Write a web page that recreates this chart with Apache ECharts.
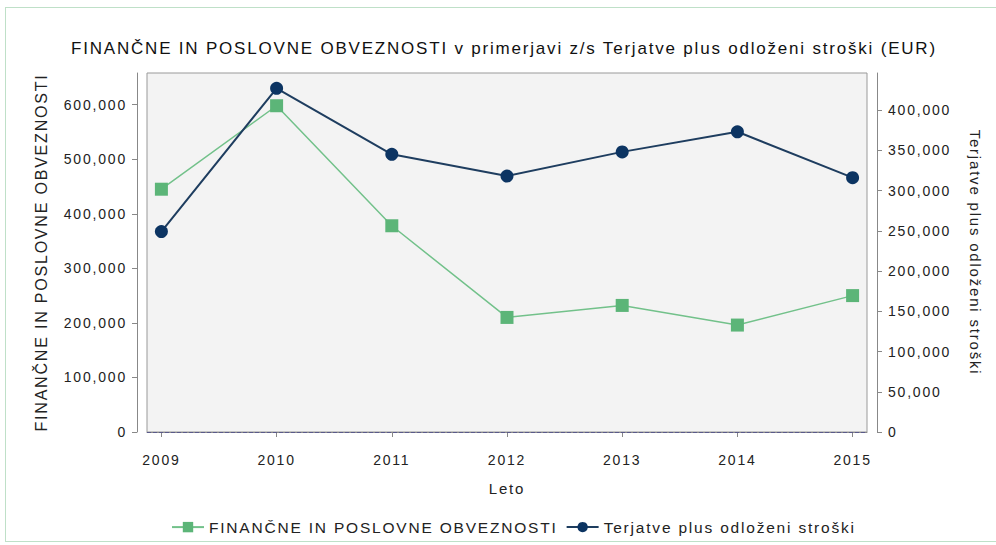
<!DOCTYPE html>
<html>
<head>
<meta charset="utf-8">
<script src="https://cdn.jsdelivr.net/npm/echarts@6/dist/echarts.min.js"></script>
<style>
  html, body { margin: 0; padding: 0; background: #fff; }
  #frame { position: absolute; left: 5px; top: 7px; width: 1000px; height: 533px; border: 1px solid #bfe0c8; }
  #chart { position: absolute; left: 0; top: 0; width: 996px; height: 545px; }
  /* razmaknjene črke kot v izvirniku */
  #chart svg text { letter-spacing: 1.8px; }
</style>
</head>
<body>
<div id="frame"></div>
<div id="chart"></div>
<script>
// podatki
const years = [2009, 2010, 2011, 2012, 2013, 2014, 2015];
const obveznosti = [445000, 598000, 378000, 210000, 232000, 196000, 250000];
const terjatve = [249000, 427000, 345000, 318000, 348000, 373000, 316000];
const leftTicks = [0, 100000, 200000, 300000, 400000, 500000, 600000];
const rightTicks = [0, 50000, 100000, 150000, 200000, 250000, 300000, 350000, 400000];

const nameObv = "FINANČNE IN POSLOVNE OBVEZNOSTI";
const nameTer = "Terjatve plus odloženi stroški";
const green = "#5cb578";
const navy = "#0c3462";
const font = "'Liberation Sans', Arial, sans-serif";
const txt = "#222";
const LS = 1.8;

// merjenje besedila mora upoštevati razmik med črkami
const mctx = document.createElement("canvas").getContext("2d");
echarts.setPlatformAPI({
  measureText(text, f) {
    mctx.font = f || "12px sans-serif";
    const t = text == null ? "" : String(text);
    return { width: mctx.measureText(t).width + t.length * LS };
  },
});

const fmt = v => v.toLocaleString("en-US");

const myChart = echarts.init(document.getElementById("chart"), null, { renderer: "svg" });
const option = {
  animation: false,
  textStyle: { fontFamily: font },
  title: {
    text: nameObv + " v primerjavi z/s " + nameTer + " (EUR)",
    left: 66,
    top: 34,
    textStyle: { fontSize: 17, fontWeight: "normal", color: "#111", fontFamily: font },
  },
  grid: {
    left: 147,
    right: 129,
    top: 73,
    bottom: 113,
    show: true,
    backgroundColor: "#f3f3f3",
    borderColor: "#999",
    borderWidth: 1,
  },
  legend: {
    bottom: 4,
    left: 166,
    itemWidth: 32,
    itemHeight: 13,
    itemGap: 8,
    textStyle: { fontSize: 15.5, color: txt },
    data: [nameObv, nameTer],
  },
  xAxis: {
    type: "value",
    min: years[0] - 0.125,
    max: years[years.length - 1] + 0.125,
    offset: 8,
    name: "Leto",
    nameLocation: "middle",
    nameGap: 40,
    nameTextStyle: { fontSize: 15, color: txt },
    axisLine: { show: true, lineStyle: { color: "#888" } },
    axisTick: { show: true, length: 5, customValues: years, lineStyle: { color: "#888" } },
    axisLabel: { customValues: years, margin: 12, fontSize: 14, color: txt, formatter: v => String(v) },
    splitLine: { show: false },
  },
  yAxis: [
    {
      type: "value",
      position: "left",
      min: 0,
      max: 658000,
      offset: 10,
      name: nameObv,
      nameLocation: "middle",
      nameRotate: 90,
      nameGap: 87,
      nameTextStyle: { fontSize: 16, color: txt },
      axisLine: { show: true, lineStyle: { color: "#888" } },
      axisTick: { show: true, length: 5, customValues: leftTicks, lineStyle: { color: "#888" } },
      axisLabel: { customValues: leftTicks, margin: 10, fontSize: 14, color: txt, formatter: fmt },
      splitLine: { show: false },
    },
    {
      type: "value",
      position: "right",
      min: 0,
      max: 446000,
      offset: 10,
      name: nameTer,
      nameLocation: "middle",
      nameRotate: -90,
      nameGap: 90,
      nameTextStyle: { fontSize: 15, color: txt },
      axisLine: { show: true, lineStyle: { color: "#888" } },
      axisTick: { show: true, length: 5, customValues: rightTicks, lineStyle: { color: "#888" } },
      axisLabel: { customValues: rightTicks, margin: 11, fontSize: 14, color: txt, formatter: fmt },
      splitLine: { show: false },
    },
  ],
  series: [
    {
      type: "line",
      name: nameObv,
      yAxisIndex: 0,
      data: years.map((y, i) => [y, obveznosti[i]]),
      symbol: "rect",
      symbolSize: 13,
      itemStyle: { color: green },
      lineStyle: { color: "#72c18a", width: 1.5 },
      z: 2,
    },
    {
      type: "line",
      name: nameTer,
      yAxisIndex: 1,
      data: years.map((y, i) => [y, terjatve[i]]),
      symbol: "circle",
      symbolSize: 13,
      itemStyle: { color: navy },
      lineStyle: { color: "#1e3d5f", width: 2 },
      z: 3,
      markLine: {
        silent: true,
        symbol: "none",
        label: { show: false },
        lineStyle: { color: "#5a5a8a", type: "dashed", width: 1 },
        data: [{ yAxis: 0 }],
      },
    },
  ],
};
myChart.setOption(option);
</script>
</body>
</html>
